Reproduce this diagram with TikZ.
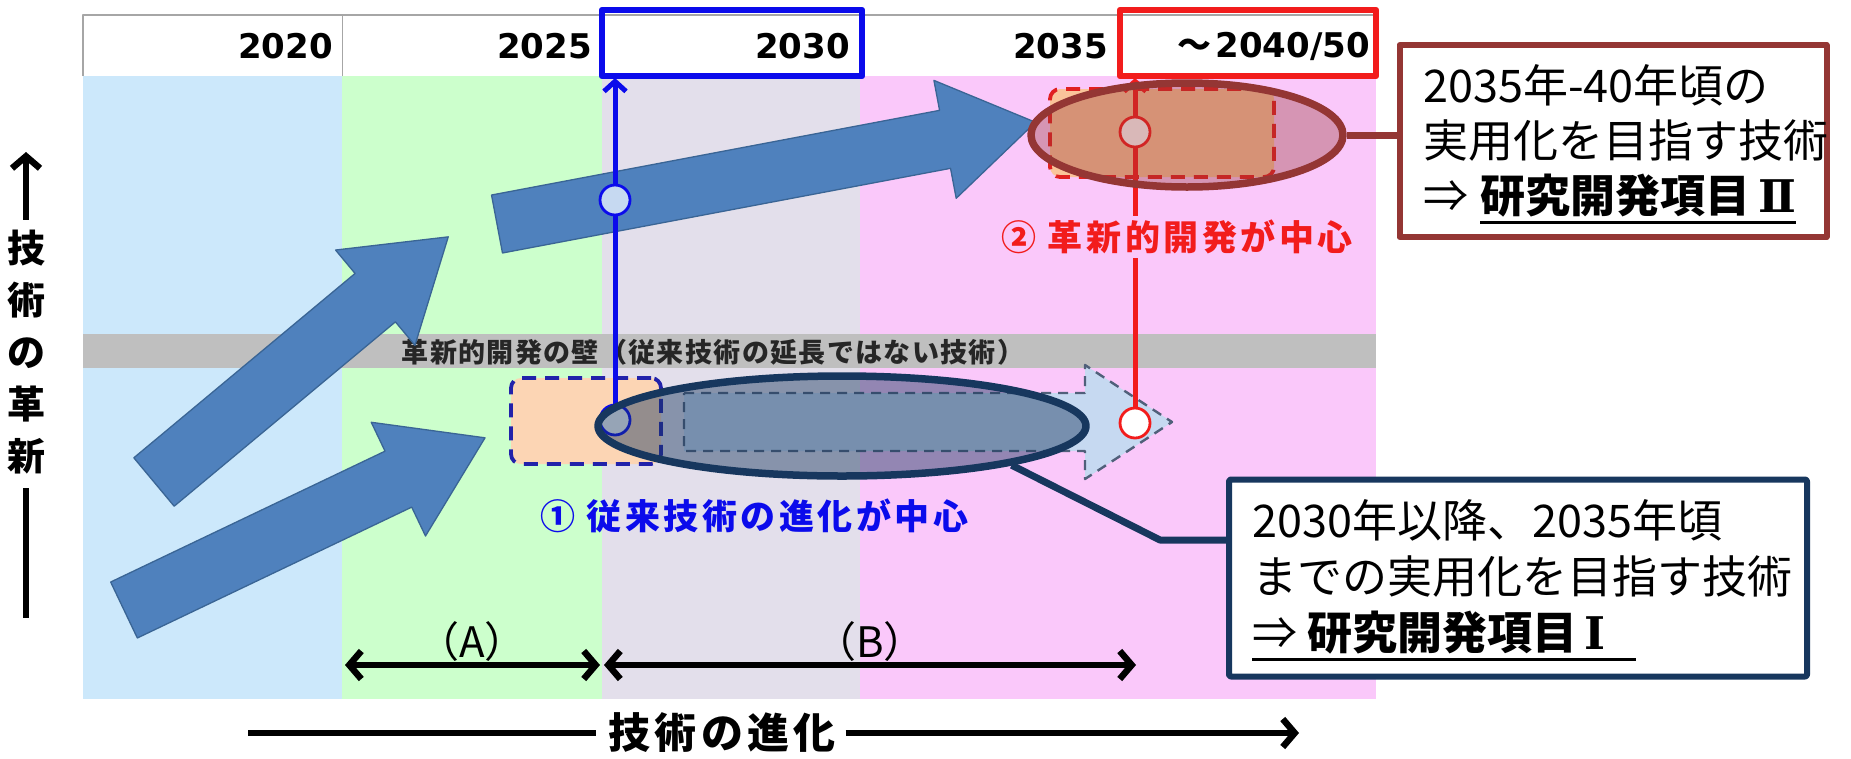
\documentclass[tikz,border=0pt]{standalone}
\usepackage{fontspec}
\setmainfont{DejaVu Sans}
\newfontfamily\jp{Noto Sans CJK JP}
\newfontfamily\jpls{Noto Sans CJK JP}[LetterSpace=10]
\newfontfamily\jpwall{Noto Sans CJK JP}[LetterSpace=5]
\newfontfamily\romser{DejaVu Serif}
\usetikzlibrary{arrows.meta,shapes.geometric}
\definecolor{cBlue}{HTML}{CCE8FB}
\definecolor{cGreen}{HTML}{CCFFCC}
\definecolor{cLav}{HTML}{E3DFEB}
\definecolor{cPink}{HTML}{FAC8FA}
\definecolor{cBand}{HTML}{BFBFBF}
\definecolor{arrFill}{HTML}{4F81BD}
\definecolor{arrLine}{HTML}{3A6595}
\definecolor{pBlue}{HTML}{0B0BEB}
\definecolor{pRed}{HTML}{F21C1C}
\definecolor{dBlue}{HTML}{2222AA}
\definecolor{dRedDash}{HTML}{E02020}
\definecolor{navy}{HTML}{17375E}
\definecolor{dred}{HTML}{943634}
\definecolor{peachA}{HTML}{FCD5B4}
\definecolor{peachB}{HTML}{FAC49A}
\definecolor{ltblue}{HTML}{C6D9F1}
\definecolor{dashgray}{HTML}{50607A}
\newcommand\blkarrow[8]{%
  \begin{scope}[shift={(#2,#3)},rotate=#4]
    \filldraw[fill=arrFill,draw=arrLine,line width=1.3pt]
      (0,-#6/2) -- (#5-#8,-#6/2) -- (#5-#8,-#7/2) -- (#5,0)
      -- (#5-#8,#7/2) -- (#5-#8,#6/2) -- (0,#6/2) -- cycle;
  \end{scope}}
\begin{document}
\begin{tikzpicture}[x=1pt,y=-1pt,line join=round,
  yr/.style={font=\fontsize{34}{36}\selectfont\bfseries,anchor=east,inner sep=0},
  callout/.style={font=\jp\fontsize{45}{50}\selectfont,anchor=west,inner sep=0},
  dbl/.style={line width=6.5pt,arrows={Straight Barb[length=12pt,width=28pt]-Straight Barb[length=12pt,width=28pt]}},
  sgl/.style={line width=6.5pt,arrows={-Straight Barb[length=12pt,width=28pt]}},
  thin arrow/.style={line width=5pt,arrows={-Straight Barb[length=10pt,width=22pt]}},
  ring/.style={circle,line width=2.8pt,minimum size=30pt,inner sep=0}]
\useasboundingbox (0,0) rectangle (1851,758);
\fill[white] (0,0) rectangle (1851,758);
% period backgrounds
\fill[cBlue] (83,76) rectangle (342,699);
\fill[cGreen] (342,76) rectangle (602,699);
\fill[cLav] (602,76) rectangle (860,699);
\fill[cPink] (860,76) rectangle (1376,699);
\fill[cBand] (83,334) rectangle (1376,368);
% header
\draw[gray!70,line width=1.5pt] (83,76) -- (83,15) -- (1376,15);
\draw[gray!70,line width=1pt] (342,15) -- (342,76);
\node[yr] (y20) at (333,46) {2020};
\node[yr] (y25) at (592,46) {2025};
\node[yr] (y30) at (850,46) {2030};
\node[yr] (y35) at (1108,46) {2035};
\node[yr] (y40) at (1370,46) {{\jp\bfseries ～}\hspace{4pt}2040/50};
\draw[pBlue,line width=6.5pt] (602,10) rectangle (862,76);
\draw[pRed,line width=6.5pt] (1120,10) rectangle (1376,76);
% wall text
\node[font=\jpwall\bfseries\fontsize{27}{29}\selectfont,text=black!85,inner sep=0] (wall) at (713,352) {革新的開発の壁（従来技術の延長ではない技術）};
% big arrows
\blkarrow{a1}{124}{610}{25.5}{400}{62}{126}{96}
\blkarrow{a2}{154}{482}{39.8}{383}{63}{124}{95}
\blkarrow{a3}{497}{224}{10.7}{548}{59}{120}{92}
% dashed boxes
\node[draw=dBlue,fill=peachA,line width=3.8pt,dash pattern=on 14pt off 9pt,rounded corners=10pt,minimum width=150pt,minimum height=86pt,inner sep=0] (ob1) at (586,421) {};
\node[draw=dRedDash,fill=peachB,line width=3.8pt,dash pattern=on 14pt off 9pt,rounded corners=10pt,minimum width=224pt,minimum height=88pt,inner sep=0] (ob2) at (1162,133) {};
% dashed arrow
\filldraw[fill=ltblue,draw=dashgray,line width=2.4pt,dash pattern=on 10pt off 7pt]
  (684,393) -- (1085,393) -- (1085,365) -- (1172,422) -- (1085,479) -- (1085,451) -- (684,451) -- cycle;
% blue line
\node[ring,draw=pBlue,fill=ltblue] (bc1) at (615,200) {};
\node[ring,draw=pBlue,fill=white] (bc2) at (615,420) {};
\coordinate (btop) at (615,78);
\draw[pBlue,line width=5pt] (bc2.north) -- (bc1.south);
\draw[pBlue,thin arrow] (bc1.north) -- (btop);
% red line
\node[ring,draw=pRed,fill=white] (rc1) at (1135,132) {};
\node[ring,draw=pRed,fill=white] (rc2) at (1135,423) {};
\coordinate (rtop) at (1135,78);
\draw[pRed,line width=5pt] (rc2.north) -- (rc1.south);
\draw[pRed,thin arrow] (rc1.north) -- (rtop);
% ellipses
\node[ellipse,draw=navy,fill=navy,fill opacity=0.45,draw opacity=1,line width=7.5pt,minimum width=488pt,minimum height=100pt,inner sep=0] (le) at (842,426) {};
\node[ellipse,draw=dred,fill=dred,fill opacity=0.35,draw opacity=1,line width=7.5pt,minimum width=312pt,minimum height=104pt,inner sep=0] (ue) at (1187,135) {};
% labels
\node[font=\jpls\bfseries\fontsize{35}{38}\selectfont,text=pBlue,inner sep=0] (lab1) at (754,516) {① 従来技術の進化が中心};
\node[font=\jpls\bfseries\fontsize{35}{38}\selectfont,text=pRed,fill=cPink,inner sep=4pt] (lab2) at (1177,237) {② 革新的開発が中心};
% callout boxes
\node[draw=navy,line width=6pt,fill=white,rounded corners=2pt,minimum width=578pt,minimum height=197pt,inner sep=0] (lbox) at (1518,578) {};
\node[draw=dred,line width=6pt,fill=white,minimum width=427pt,minimum height=192pt,inner sep=0] (ubox) at (1613,141) {};
\coordinate (lbend) at (1160,540);
\draw[navy,line width=7pt] (le.-13) -- (lbend) -- (lbend -| lbox.west);
\draw[dred,line width=7pt] (ue.east) -- (ue.east -| ubox.west);
\node[callout] (lt1) at (1252,520) {2030年以降、2035年頃};
\node[callout] (lt2) at (1252,577) {までの実用化を目指す技術};
\node[callout] (lt3) at (1252,633) {⇒ {\bfseries 研究開発項目{\romser\bfseries\,Ⅰ}}\rule{30pt}{0pt}};
\draw[line width=3pt] ([yshift=-10pt]lt3.base west) -- ([yshift=-10pt]lt3.base east);
\node[callout] (ut1) at (1423,85) {2035年-40年頃の};
\node[callout] (ut2) at (1423,141) {実用化を目指す技術};
\node[callout] (ut3) at (1423,197) {⇒};
\node[callout,anchor=base west] (ut3b) at ([xshift=12pt]ut3.base east) {\bfseries 研究開発項目{\romser\bfseries\,Ⅱ}};
\draw[line width=3pt] ([yshift=-10pt]ut3b.base west) -- ([yshift=-10pt]ut3b.base east);
% period arrows
\coordinate (A1) at (345,665);
\coordinate (A2) at (600,665);
\coordinate (B1) at (604,665);
\coordinate (B2) at (1136,665);
\draw[dbl] (A1) -- (A2);
\draw[dbl] (B1) -- (B2);
\node[font=\jp\fontsize{42}{46}\selectfont,inner sep=0] (la) at (472,642) {（A）};
\node[font=\jp\fontsize{42}{46}\selectfont,inner sep=0] (lb) at (870,642) {（B）};
% horizontal axis
\node[font=\jpls\bfseries\fontsize{42}{44}\selectfont,inner sep=0] (ax) at (722,733) {技術の進化};
\coordinate (axl) at (248,733);
\coordinate (axr) at (1299,733);
\draw[line width=6.5pt] (axl) -- ([xshift=-12pt]ax.west);
\draw[sgl] ([xshift=10pt]ax.east) -- (axr);
% vertical axis
\node[font=\jp\bfseries\fontsize{38}{52}\selectfont,align=center,inner sep=0] (vl) at (26,352) {技\\術\\の\\革\\新};
\coordinate (vtop) at (26,152);
\coordinate (vbot) at (26,618);
\draw[sgl] ([yshift=10pt]vl.north) -- (vtop);
\draw[line width=6.5pt] ([yshift=-14pt]vl.south) -- (vbot);
\end{tikzpicture}
\end{document}
